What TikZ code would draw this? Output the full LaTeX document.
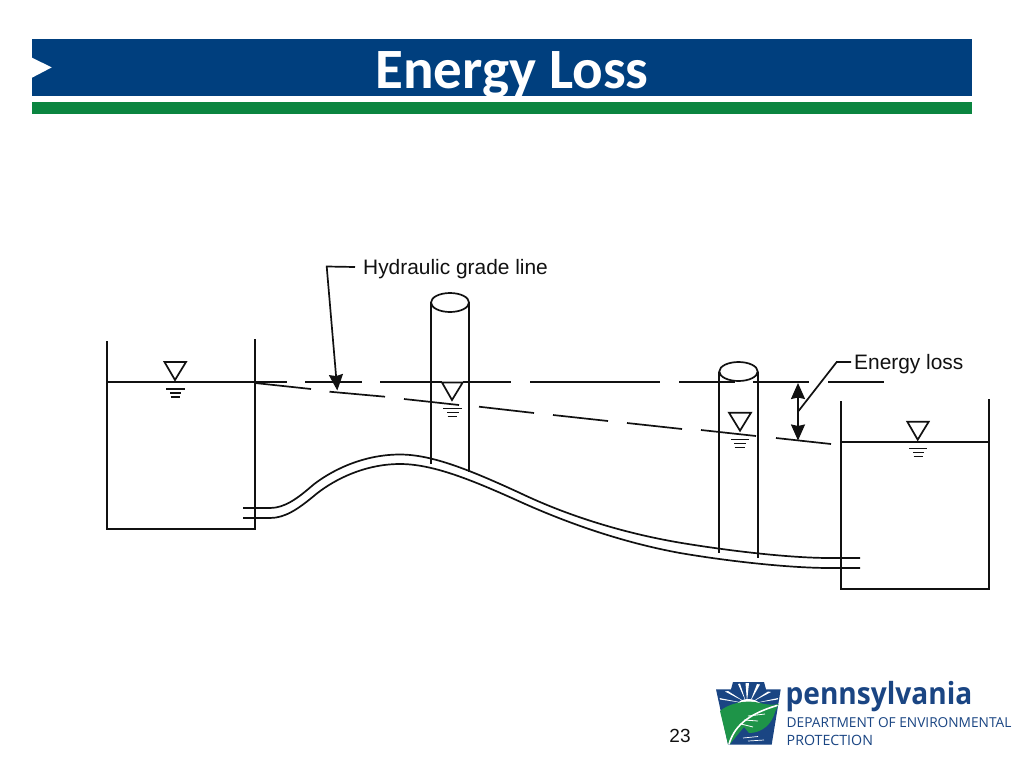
\documentclass[tikz,border=0pt]{standalone}
\usepackage{fontspec}
\setmainfont{Liberation Sans}
\newfontfamily\titlefont{Carlito}
\newfontfamily\logofont{Open Sans}
\newfontfamily\logonarrow[FakeStretch=0.92]{Open Sans}
\usetikzlibrary{arrows.meta}
\definecolor{hdrblue}{HTML}{003F7E}
\definecolor{hdrgreen}{HTML}{0A8540}
\definecolor{logoblue}{HTML}{1A4583}
\definecolor{logogreen}{HTML}{1E9448}
\definecolor{inkc}{HTML}{111111}
\tikzset{
  ln/.style={line width=1.7pt,draw=inkc},
  tickln/.style={line width=1.5pt,draw=inkc},
  tri/.style={line width=1.7pt,draw=inkc,line join=miter},
  lab/.style={inner ysep=0pt,anchor=west,text=inkc,text depth=0pt,font=\fontsize{20.9}{24}\selectfont},
  bigtip/.tip={Stealth[length=16pt,width=14pt,inset=1.5pt]},
  logotxt/.style={anchor=west,inner sep=0pt,text=logoblue}
}
\begin{document}
\begin{tikzpicture}[x=1pt,y=-1pt]
\useasboundingbox (0,0) rectangle (1024,768);
\fill[white] (0,0) rectangle (1024,768);
% header
\fill[hdrblue] (32,39) rectangle (972,96);
\fill[hdrgreen] (32,102) rectangle (972,114);
\fill[white] (32,57.7) -- (51.7,67.4) -- (32,77.7) -- cycle;
\node[anchor=base,inner sep=0pt,text=white,font=\titlefont\bfseries\fontsize{57}{60}\selectfont] (title) at (512,88) {Energy Loss};
% left tank
\draw[ln] (107,341) -- (107,529) -- (255,529) -- (255,339);
\draw[ln] (107,382) -- (255,382);
\draw[tri] (164.5,362) -- (186,362) -- (175,380) -- cycle;
\draw[tickln] (166,389) -- (184.5,389) (170,393) -- (181,393) (170.5,397) -- (180,397);
% right tank
\draw[ln] (841,401) -- (841,589) -- (989,589) -- (989,399);
\draw[ln] (841,442) -- (989,442);
\draw[tri] (907.3,421.7) -- (928.7,421.7) -- (917.7,439.7) -- cycle;
\draw[tickln] (909,448.7) -- (927,448.7) (913,452.7) -- (924,452.7) (913.5,456.7) -- (923,456.7);
% pipe
\draw[ln] (243,508) -- (270,508) .. controls (285,508) and (298,498) .. (313,485) .. controls (328,473) and (360,454.5) .. (400,454.5) .. controls (432,454.5) and (470,470) .. (520,493) .. controls (565,514.5) and (620,532.5) .. (680,542.7) .. controls (730,551) and (790,558) .. (830,558) -- (860,558);
\draw[ln] (243,518) -- (270,518) .. controls (285,518) and (298,509) .. (313,496.7) .. controls (330,482) and (362,464) .. (400,464) .. controls (432,464) and (470,479) .. (520,501.7) .. controls (565,522) and (620,542) .. (680,553) .. controls (730,561.5) and (790,568) .. (830,568) -- (860,568);
% standpipe 1
\draw[ln] (431,302.5) -- (431,464) (468.7,302.5) -- (468.7,472);
\draw[ln] (450,302.5) ellipse [x radius=19pt,y radius=9.5pt];
\draw[tri] (442,382.5) -- (462.7,382.5) -- (452,400) -- cycle;
\draw[tickln] (443,408.3) -- (462,408.3) (447,412.4) -- (459,412.4) (447.5,416.5) -- (457,416.5);
% standpipe 2
\draw[ln] (719.3,371.5) -- (719.3,553) (757.7,371.5) -- (757.7,558);
\draw[ln] (738.5,371.5) ellipse [x radius=19.2pt,y radius=9.5pt];
\draw[tri] (729,412.7) -- (751,412.7) -- (740,430.7) -- cycle;
\draw[tickln] (731,439.7) -- (749,439.7) (734,443.7) -- (746,443.7) (734.5,447.7) -- (745,447.7);
% energy line (dashed, upper)
\draw[ln] (255,382) -- (287,382) (305,382) -- (362,382) (380,382) -- (442,382) (462.7,382) -- (511,382)
  (530,382) -- (660,382) (679,382) -- (734.5,382) (753,382) -- (809,382) (828,382) -- (884,382);
% hydraulic grade line (dashed, lower)
\draw[ln] (255,383) -- (311,389) (329.5,391.7) -- (385,396.7) (404,399) -- (459,405)
  (479,406.7) -- (534,413) (553,415) -- (608,421) (627,423) -- (682,429) (701,430) -- (756,436) (776,438) -- (831,444);
% labels and leaders
\node[lab,inner xsep=8pt] (hgl) at (355,267) {Hydraulic grade line};
\node[lab,inner xsep=3pt] (eloss) at (851,362) {Energy loss};
\coordinate (hglbend) at (326.7,266.5);
\coordinate (hgltip) at (337.3,390.5);
\draw[ln,-bigtip] (hgl.west) -- (hglbend) -- (hgltip);
\coordinate (eltop) at (798,383);
\coordinate (elbot) at (798,440.5);
\coordinate (elbend) at (836.7,362);
\coordinate (elfoot) at (798.5,411);
\draw[ln,bigtip-bigtip] (eltop) -- (elbot);
\draw[ln] (eloss.west) -- (elbend) -- (elfoot);
% page number
\node[inner sep=0pt,text=inkc,font=\fontsize{19}{22}\selectfont] (pageno) at (680,735.5) {23};
% logo
\fill[logoblue] (733,682) -- (764,682) -- (766,689.3) -- (780.7,689.3) -- (771.7,744.5) -- (728,744.5) -- (716,689.3) -- (731,689.3) -- cycle;
\fill[white] (747,702) -- (745.5,683) -- (749,683) -- cycle;
\fill[white] (746,702) -- (738,684) -- (740,683.5) -- cycle;
\fill[white] (750,702) -- (757,684) -- (760,684.5) -- cycle;
\fill[white] (745,702) -- (725,691.5) -- (728,691) -- cycle;
\fill[white] (752,702) -- (771,692) -- (768,691.5) -- cycle;
\fill[white] (744,703) -- (719.5,698) -- (720,699.5) -- cycle;
\fill[white] (755,703) -- (778,698) -- (777.5,699.5) -- cycle;
\fill[white] (736,705) .. controls (741,697) and (755,697) .. (762,705) -- cycle;
\fill[logogreen] (720,711) .. controls (728,704) and (745,699) .. (760,703) .. controls (768,705) and (774,705) .. (778.5,704)
  -- (775,712) .. controls (772,724) and (762,733) .. (749,733) -- (744,727) -- (730,744) -- (728,744) -- cycle;
\draw[white,line width=1.6pt,line cap=round] (729,744) .. controls (734,728) and (745,715) .. (777,705.5);
\draw[white,line width=0.8pt] (744,720) -- (758,721) (748,716) -- (765,714) (741,724) -- (753,727);
\draw[white,line width=0.7pt] (743,738) -- (758,736.5) (748,741) -- (764,740);
\node[logotxt,font=\logonarrow\bfseries\fontsize{30.5}{32}\selectfont] (pa) at (785.5,697) {pennsylvania};
\node[logotxt,font=\logofont\fontsize{13.7}{16}\selectfont] (dep) at (786.5,722.5) {DEPARTMENT OF ENVIRONMENTAL};
\node[logotxt,font=\logofont\fontsize{14.2}{16}\selectfont] (prot) at (786.5,740) {PROTECTION};
\end{tikzpicture}
\end{document}
